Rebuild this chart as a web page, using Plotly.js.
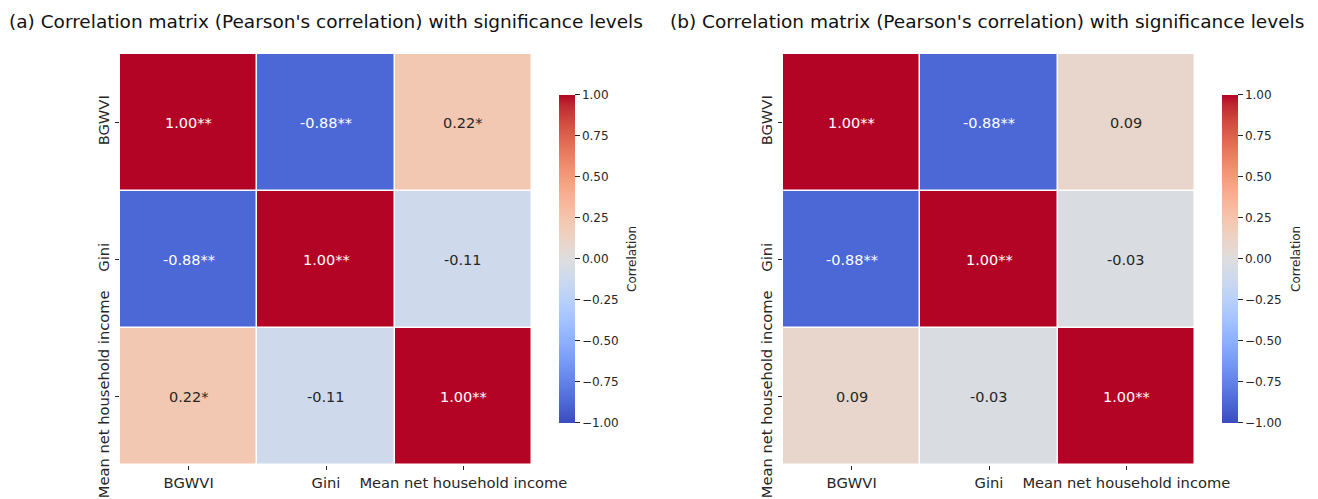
<!DOCTYPE html>
<html>
<head>
<meta charset="utf-8">
<script src="https://cdn.plot.ly/plotly-3.0.1.min.js"></script>
<style>html,body{margin:0;padding:0;background:#fff;}#chart{width:1318px;height:499px;}</style>
</head>
<body>
<div id="chart"></div>
<script>
// ---- Data ----
const labels = ["BGWVI", "Gini", "Mean net household income"];
const corrA = [
  [1.00, -0.88, 0.22],
  [-0.88, 1.00, -0.11],
  [0.22, -0.11, 1.00]
];
const sigA = [
  ["**", "**", "*"],
  ["**", "**", ""],
  ["*", "", "**"]
];
const corrB = [
  [1.00, -0.88, 0.09],
  [-0.88, 1.00, -0.03],
  [0.09, -0.03, 1.00]
];
const sigB = [
  ["**", "**", ""],
  ["**", "**", ""],
  ["", "", "**"]
];
const cbTickVals = [-1, -0.75, -0.5, -0.25, 0, 0.25, 0.5, 0.75, 1];
const cbTitle = "Correlation";
const titleA = "(a) Correlation matrix (Pearson's correlation) with significance levels";
const titleB = "(b) Correlation matrix (Pearson's correlation) with significance levels";

// coolwarm colormap (Moreland)
const cw = [
 [59,76,192],[68,90,204],[77,104,215],[87,117,225],[98,130,234],[108,142,241],[119,154,247],[130,165,251],
 [141,176,254],[152,185,255],[163,194,255],[174,201,253],[184,208,249],[194,213,244],[204,217,238],[213,219,230],
 [221,221,221],[229,216,209],[236,211,197],[241,204,184],[245,196,173],[247,187,160],[247,177,148],[247,166,135],
 [244,154,123],[241,141,111],[236,127,99],[229,112,88],[222,96,77],[213,80,66],[203,62,56],[192,40,47],[180,4,38]
];
const coolwarm = cw.map((c, i) => [i / (cw.length - 1), `rgb(${c[0]},${c[1]},${c[2]})`]);

const FONT = "DejaVu Sans, sans-serif";
const TXT = "#262626";

function heat(z, xa, ya, cbx) {
  return {
    type: "heatmap", z: z, x: labels, y: labels, xaxis: xa, yaxis: ya,
    colorscale: coolwarm, zmin: -1, zmax: 1, xgap: 1.5, ygap: 1.5,
    hoverinfo: "skip",
    colorbar: {
      x: cbx, xanchor: "left", xref: "paper", y: 0.481, yanchor: "middle",
      len: 0.657, lenmode: "fraction", thickness: 16, thicknessmode: "pixels",
      outlinewidth: 0, ticks: "outside", ticklen: 5, tickwidth: 1, tickcolor: TXT,
      tickvals: cbTickVals, tickformat: ".2f", xpad: 0, ypad: 0,
      tickfont: {family: FONT, size: 12, color: TXT}
    }
  };
}

function cellAnnots(z, sig, xa, ya) {
  const out = [];
  for (let i = 0; i < labels.length; i++) {
    for (let j = 0; j < labels.length; j++) {
      const v = z[i][j];
      out.push({
        x: labels[j], y: labels[i], xref: xa, yref: ya,
        text: v.toFixed(2) + sig[i][j], showarrow: false,
        font: {family: FONT, size: 14.5, color: Math.abs(v) > 0.5 ? "#ffffff" : TXT}
      });
    }
  }
  return out;
}

const axX = (dom) => ({
  domain: dom, type: "category", showgrid: false, zeroline: false, showline: false,
  ticks: "outside", ticklen: 4, tickcolor: TXT, tickfont: {family: FONT, size: 14.7, color: TXT},
  fixedrange: true
});
const axY = (dom, anchor) => ({
  domain: dom, type: "category", autorange: "reversed", showgrid: false, zeroline: false, showline: false,
  ticks: "outside", ticklen: 4, tickcolor: TXT, tickangle: -90, anchor: anchor,
  tickfont: {family: FONT, size: 14.7, color: TXT}, fixedrange: true
});

const ydom = [1 - 465 / 499, 1 - 54 / 499];
const cbTitleAnn = (xpx) => ({
  text: cbTitle, xref: "paper", yref: "paper", x: xpx / 1318, y: 1 - 259 / 499,
  xanchor: "center", yanchor: "middle", textangle: -90, showarrow: false,
  font: {family: FONT, size: 12, color: TXT}
});
const layout = {
  width: 1318, height: 499,
  margin: {l: 0, r: 0, t: 0, b: 0},
  paper_bgcolor: "#fff", plot_bgcolor: "#fff",
  font: {family: FONT, color: TXT},
  showlegend: false,
  xaxis: Object.assign(axX([120 / 1318, 532 / 1318]), {anchor: "y"}),
  yaxis: axY(ydom, "x"),
  xaxis2: Object.assign(axX([783 / 1318, 1195 / 1318]), {anchor: "y2"}),
  yaxis2: axY(ydom, "x2"),
  annotations: [
    {text: titleA, xref: "paper", yref: "paper", x: 7 / 1318, y: 1 - 21 / 499, xanchor: "left", yanchor: "middle",
     showarrow: false, font: {family: FONT, size: 18.5, color: "#111"}},
    {text: titleB, xref: "paper", yref: "paper", x: 668 / 1318, y: 1 - 21 / 499, xanchor: "left", yanchor: "middle",
     showarrow: false, font: {family: FONT, size: 18.5, color: "#111"}},
    cbTitleAnn(632), cbTitleAnn(1296)
  ].concat(cellAnnots(corrA, sigA, "x", "y"), cellAnnots(corrB, sigB, "x2", "y2"))
};

Plotly.newPlot("chart", [heat(corrA, "x", "y", 559 / 1318), heat(corrB, "x2", "y2", 1222 / 1318)], layout, {displayModeBar: false, staticPlot: true});
</script>
</body>
</html>
